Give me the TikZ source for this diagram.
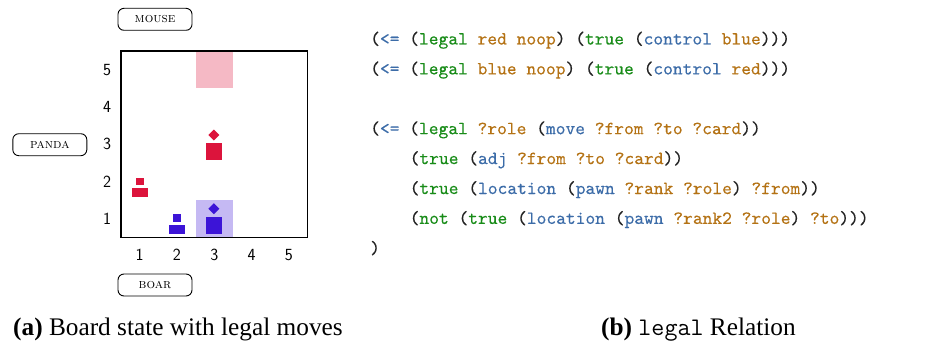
\documentclass[tikz,border=0pt]{standalone}
\usepackage{fontspec}
\newfontfamily\capfont{Liberation Serif}
\newfontfamily\codefont[FakeBold=0.25]{lmmono10-regular.otf}
\definecolor{pcred}{RGB}{220,20,60}
\definecolor{pcblue}{RGB}{60,20,215}
\definecolor{kwgreen}{RGB}{25,140,25}
\definecolor{fnblue}{RGB}{60,108,168}
\definecolor{atomor}{RGB}{180,114,20}
\definecolor{paren}{RGB}{35,35,35}
\newcommand\kwg[1]{\textcolor{kwgreen}{#1}}
\newcommand\fnb[1]{\textcolor{fnblue}{#1}}
\newcommand\atm[1]{\textcolor{atomor}{#1}}
\tikzset{
  lbl/.style={draw, rounded corners=6pt, minimum width=74pt, minimum height=22pt,
    inner sep=0pt, line width=0.9pt, font=\fontsize{13.5}{15}\selectfont},
  axisnum/.style={inner sep=0pt, font=\sffamily\fontsize{17}{18}\selectfont},
  codeline/.style={anchor=base west, inner sep=0pt, text=paren,
    font=\codefont\fontsize{18.6}{20}\selectfont},
  captxt/.style={anchor=base west, inner sep=0pt, font=\capfont\fontsize{25.3}{27}\selectfont},
}
\begin{document}
\begin{tikzpicture}[x=1pt,y=-1pt]
\useasboundingbox (0,0) rectangle (944,345);

% ---- board (5x5, cell 37.3) ----
% highlighted cells
\fill[pcred!30] (195.6,51) rectangle (232.9,88.3);
\fill[pcblue!30] (195.6,200.2) rectangle (232.9,237.5);

% red pawn on (1,2)
\fill[pcred] (135.7,177.7) rectangle (144,185.3);
\fill[pcred] (131.7,188.3) rectangle (147.7,197.3);
% red master on (3,3)
\fill[pcred] (213.8,129.5) -- (219.3,135) -- (213.8,140.5) -- (208.3,135) -- cycle;
\fill[pcred] (205.7,142.7) rectangle (222,160.3);
% blue pawn on (2,1)
\fill[pcblue] (173,214.3) rectangle (181,222.3);
\fill[pcblue] (169,225.3) rectangle (185,234.3);
% blue master on (3,1)
\fill[pcblue] (213.8,203.2) -- (219.3,208.7) -- (213.8,214.2) -- (208.3,208.7) -- cycle;
\fill[pcblue] (205.7,216.7) rectangle (222,234.3);

% frame
\draw[line width=1.2pt] (121,51) rectangle (307.5,237.5);

% rank / file numbers
\foreach \r/\yy in {5/69.65,4/106.95,3/144.25,2/181.55,1/218.85}
  \node[axisnum] (row\r) at (107,\yy) {\r};
\foreach \c/\xx in {1/139.65,2/176.95,3/214.25,4/251.55,5/288.85}
  \node[axisnum] (col\c) at (\xx,255) {\c};

% seat labels
\node[lbl] (mouse) at (155,19.3) {\textsc{mouse}};
\node[lbl] (panda) at (49.8,144.7) {\textsc{panda}};
\node[lbl] (boar)  at (155,285) {\textsc{boar}};

% ---- legal relation ----
\node[codeline] (c1) at (370,44.5)
  {(\fnb{<=} (\kwg{legal} \atm{red noop}) (\kwg{true} (\fnb{control} \atm{blue})))};
\node[codeline] (c2) at (370,74.4)
  {(\fnb{<=} (\kwg{legal} \atm{blue noop}) (\kwg{true} (\fnb{control} \atm{red})))};
\node[codeline] (c3) at (370,134.2)
  {(\fnb{<=} (\kwg{legal} \atm{?role} (\fnb{move} \atm{?from ?to ?card}))};
\node[codeline] (c4) at (409.5,164.1)
  {(\kwg{true} (\fnb{adj} \atm{?from ?to ?card}))};
\node[codeline] (c5) at (409.5,194.0)
  {(\kwg{true} (\fnb{location} (\fnb{pawn} \atm{?rank ?role}) \atm{?from}))};
\node[codeline] (c6) at (409.5,223.9)
  {(\kwg{not} (\kwg{true} (\fnb{location} (\fnb{pawn} \atm{?rank2 ?role}) \atm{?to})))};
\node[codeline] (c7) at (370,253.8) {)};

% ---- captions ----
\node[captxt] (capa) at (13,335.5) {\textbf{(a)} Board state with legal moves};
\node[captxt] (capb) at (601,335.5) {\textbf{(b)} \texttt{legal} Relation};
\end{tikzpicture}
\end{document}
